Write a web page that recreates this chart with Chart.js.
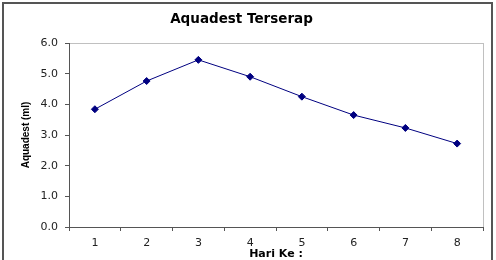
<!DOCTYPE html>
<html>
<head>
<meta charset="utf-8">
<script src="https://cdn.jsdelivr.net/npm/chart.js@4"></script>
<style>
  html, body { margin: 0; padding: 0; background: #fff; overflow: hidden; }
  #frame { position: absolute; left: 2px; top: 2px; width: 487px; height: 300px; border: 2px solid #555; }
  #chart { position: absolute; left: 0; top: 0; }
</style>
</head>
<body>
<div id="frame"></div>
<canvas id="chart" width="496" height="260"></canvas>
<script>
var days = ['1', '2', '3', '4', '5', '6', '7', '8'];
var absorbed = [3.84, 4.76, 5.45, 4.90, 4.25, 3.65, 3.23, 2.72];
var yTicks = [0, 1, 2, 3, 4, 5, 6];

var plotFrame = {
    id: 'plotFrame',
    beforeDraw: function (chart) {
        var a = chart.chartArea, ctx = chart.ctx;
        ctx.save();
        ctx.strokeStyle = '#c0c0c0';
        ctx.lineWidth = 1;
        ctx.strokeRect(a.left + 0.5, a.top + 0.5, a.right - a.left, a.bottom - a.top);
        ctx.restore();
    }
};

new Chart(document.getElementById('chart'), {
    type: 'line',
    data: {
        labels: days,
        datasets: [{
            data: absorbed,
            borderColor: '#000080',
            borderWidth: 1,
            backgroundColor: '#000080',
            pointBackgroundColor: '#000080',
            pointBorderColor: '#000080',
            pointStyle: 'rectRot',
            pointRadius: 3.5,
            tension: 0,
            fill: false
        }]
    },
    options: {
        responsive: false,
        animation: false,
        layout: { padding: { left: 0, right: 13, top: 0, bottom: 0 } },
        plugins: {
            legend: { display: false },
            tooltip: { enabled: false },
            title: {
                display: true,
                text: 'Aquadest Terserap',
                color: '#000',
                font: { family: 'DejaVu Sans', size: 13.5, weight: 'bold', lineHeight: 1.2 },
                padding: { top: 11.2, bottom: 15.6 }
            }
        },
        scales: {
            x: {
                offset: true,
                grid: { offset: true, drawOnChartArea: false, drawTicks: true, tickLength: 4, color: '#555' },
                border: { display: true, color: '#555', width: 1 },
                ticks: { color: '#222', padding: 5.4, font: { family: 'DejaVu Sans', size: 11 } },
                title: {
                    display: true,
                    text: 'Hari Ke :',
                    color: '#000',
                    padding: 0,
                    font: { family: 'DejaVu Sans', size: 11, weight: 'bold', lineHeight: 1 }
                },
                afterFit: function (scale) { scale.height = 33; }
            },
            y: {
                min: 0,
                max: 6,
                afterBuildTicks: function (scale) {
                    scale.ticks = yTicks.map(function (v) { return { value: v }; });
                },
                grid: { drawOnChartArea: false, drawTicks: true, tickLength: 4, color: '#555' },
                border: { display: true, color: '#555', width: 1 },
                ticks: {
                    color: '#222',
                    padding: 7,
                    font: { family: 'DejaVu Sans', size: 11 },
                    callback: function (v) { return Number(v).toFixed(1); }
                },
                title: {
                    display: true,
                    text: 'Aquadest (ml)',
                    color: '#000',
                    padding: { top: 20.7, bottom: 0 },
                    font: { family: 'Liberation Sans', size: 10, weight: 'bold', lineHeight: 1.2 }
                },
                afterFit: function (scale) { scale.width = 69; }
            }
        }
    },
    plugins: [plotFrame]
});
</script>
</body>
</html>
